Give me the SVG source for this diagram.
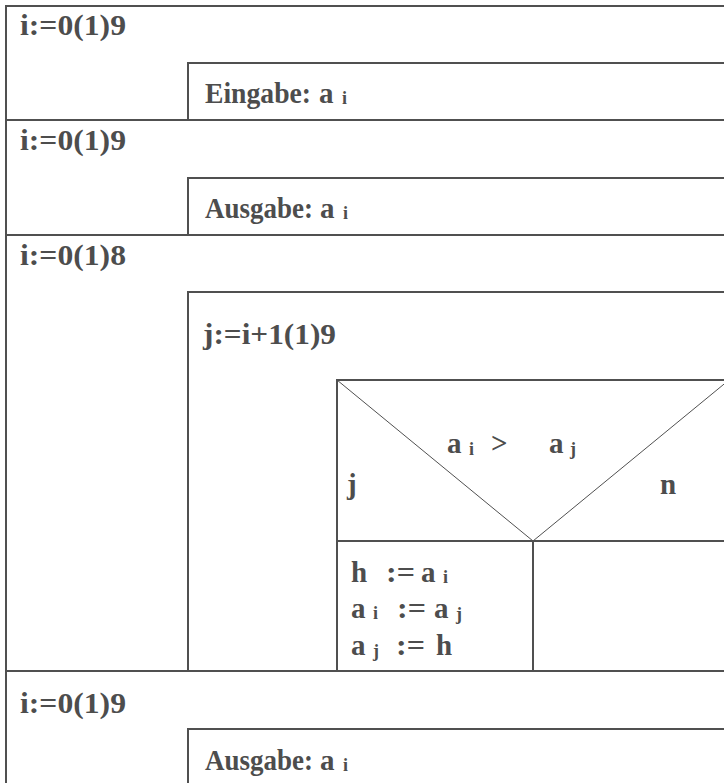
<svg xmlns="http://www.w3.org/2000/svg" width="724" height="783" viewBox="0 0 724 783">
<style>
.ln{stroke:#505050;stroke-width:2;fill:none}
.dg{stroke:#505050;stroke-width:1;fill:none}
text{font-family:"Liberation Serif","Times New Roman",serif;font-weight:bold;font-size:29px;fill:#4d4d4d}
.s{font-size:18px}
</style>
<rect width="724" height="783" fill="#ffffff"/>
<g id="connectors">
<line class="ln" x1="6" y1="5" x2="6" y2="783"/>
<line class="ln" x1="5" y1="6" x2="724" y2="6"/>
<line class="ln" x1="5" y1="120" x2="724" y2="120"/>
<line class="ln" x1="5" y1="235" x2="724" y2="235"/>
<line class="ln" x1="5" y1="671" x2="724" y2="671"/>
</g>
<g id="loop1">
<text x="20" y="35" textLength="106" lengthAdjust="spacingAndGlyphs">i:=0(1)9</text>
</g>
<g id="input">
<path class="ln" d="M188,120 V63 H724"/>
<text x="205" y="103" textLength="106" lengthAdjust="spacingAndGlyphs">Eingabe:</text>
<text x="319" y="103">a</text>
<text class="s" x="342" y="104">i</text>
</g>
<g id="loop2">
<text x="20" y="150" textLength="106" lengthAdjust="spacingAndGlyphs">i:=0(1)9</text>
</g>
<g id="output1">
<path class="ln" d="M188,235 V178 H724"/>
<text x="205" y="218" textLength="108" lengthAdjust="spacingAndGlyphs">Ausgabe:</text>
<text x="320" y="218">a</text>
<text class="s" x="343" y="219">i</text>
</g>
<g id="loop3">
<text x="20" y="265" textLength="106" lengthAdjust="spacingAndGlyphs">i:=0(1)8</text>
</g>
<g id="loop4">
<path class="ln" d="M188,671 V292 H724"/>
<text x="203" y="344" textLength="133" lengthAdjust="spacingAndGlyphs">j:=i+1(1)9</text>
</g>
<g id="decision">
<path class="ln" d="M337,671 V380 H724"/>
<line class="dg" x1="337" y1="380" x2="533" y2="541"/>
<line class="dg" x1="533" y1="541" x2="729" y2="380"/>
<line class="ln" x1="337" y1="541" x2="724" y2="541"/>
<text x="447" y="453">a</text>
<text class="s" x="469" y="455">i</text>
<text x="491" y="453">&gt;</text>
<text x="549" y="453">a</text>
<text class="s" x="570" y="455">j</text>
<text x="347" y="494">j</text>
<text x="660" y="494">n</text>
</g>
<g id="swap">
<line class="ln" x1="533" y1="541" x2="533" y2="671"/>
<text x="351" y="582">h</text>
<text x="386" y="582" textLength="29" lengthAdjust="spacingAndGlyphs">:=</text>
<text x="421" y="582">a</text>
<text class="s" x="443" y="583">i</text>
<text x="351" y="618">a</text>
<text class="s" x="373" y="619">i</text>
<text x="397" y="618" textLength="29" lengthAdjust="spacingAndGlyphs">:=</text>
<text x="434" y="618">a</text>
<text class="s" x="456" y="620">j</text>
<text x="351" y="655">a</text>
<text class="s" x="373" y="657">j</text>
<text x="396" y="655" textLength="29" lengthAdjust="spacingAndGlyphs">:=</text>
<text x="436" y="655">h</text>
</g>
<g id="loop5">
<text x="20" y="713" textLength="106" lengthAdjust="spacingAndGlyphs">i:=0(1)9</text>
</g>
<g id="output2">
<path class="ln" d="M188,783 V729 H724"/>
<text x="205" y="770" textLength="108" lengthAdjust="spacingAndGlyphs">Ausgabe:</text>
<text x="320" y="770">a</text>
<text class="s" x="343" y="771">i</text>
</g>
</svg>
